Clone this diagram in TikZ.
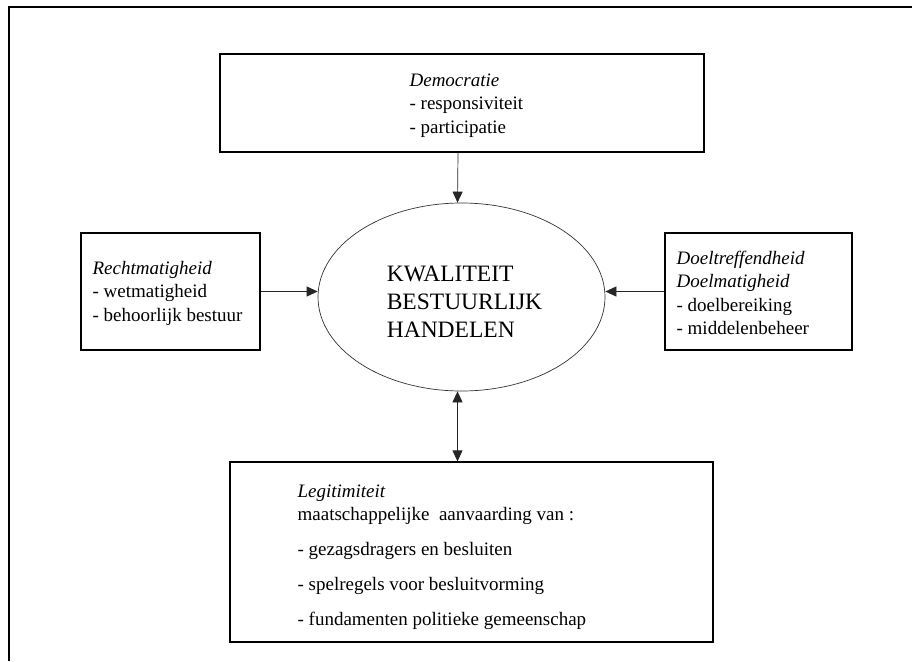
\documentclass[tikz,border=0pt]{standalone}
\usepackage{fontspec}
\setmainfont{Liberation Serif}
\usetikzlibrary{positioning, shapes.geometric, arrows.meta}

\begin{document}
\begin{tikzpicture}[x=1pt, y=-1pt,
    vak/.style={draw, line width=1.2pt, inner sep=0pt},
    tekst/.style={align=left, inner sep=0pt, anchor=west, font=\fontsize{19}{23.5}\selectfont},
    >={Triangle[length=11pt,width=10pt]},
    pijl/.style={draw=black!85, line width=0.7pt}]
\useasboundingbox (0,0) rectangle (912,661);

% kader
\draw[line width=2.4pt] (9,661) -- (9,7) -- (912,7);

% vakken
\node[vak, minimum width=484pt, minimum height=98pt] (demo) at (462,103) {};
\node[vak, minimum width=179pt, minimum height=117pt] (recht) at (170.5,291.5) {};
\node[vak, minimum width=187pt, minimum height=117pt] (doel) at (758.5,291.5) {};
\node[vak, minimum width=483pt, minimum height=180pt] (legit) at (471.5,552) {};
\node[draw=black!80, line width=0.7pt, ellipse, inner sep=0pt, minimum width=287pt, minimum height=188pt]
      (kwal) at (461.5,297) {};
\node[align=left, inner sep=0pt, font=\fontsize{23.5}{28}\selectfont, xshift=3pt, yshift=-5pt]
      (kwaltekst) at (kwal) {KWALITEIT\\BESTUURLIJK\\HANDELEN};

% teksten
\node[tekst, right=190pt of demo.west, yshift=-2.5pt] (demotekst)
    {\textit{Democratie}\\- responsiviteit\\- participatie};
\node[tekst, right=12pt of recht.west, yshift=-1.5pt] (rechttekst)
    {\textit{Rechtmatigheid}\\- wetmatigheid\\- behoorlijk bestuur};
\node[tekst, right=12pt of doel.west, yshift=-1.5pt] (doeltekst)
    {\textit{Doeltreffendheid}\\\textit{Doelmatigheid}\\- doelbereiking\\- middelenbeheer};
\node[tekst, right=68pt of legit.west, yshift=-5.5pt] (legittekst)
    {\textit{Legitimiteit}\\maatschappelijke\ \ aanvaarding van :\\[11.5pt]
     - gezagsdragers en besluiten\\[11.5pt]
     - spelregels voor besluitvorming\\[11.5pt]
     - fundamenten politieke gemeenschap};

% pijlen
\draw[pijl, ->] ([xshift=-4pt]demo.south) -- ([xshift=-4pt]kwal.north);
\draw[pijl, ->] (recht.east) -- (recht.east -| kwal.west);
\draw[pijl, ->] (doel.west) -- (doel.west -| kwal.east);
\draw[pijl, <->] ([xshift=-4pt]kwal.south) -- ([xshift=-4pt]kwal.south |- legit.north);
\end{tikzpicture}
\end{document}
